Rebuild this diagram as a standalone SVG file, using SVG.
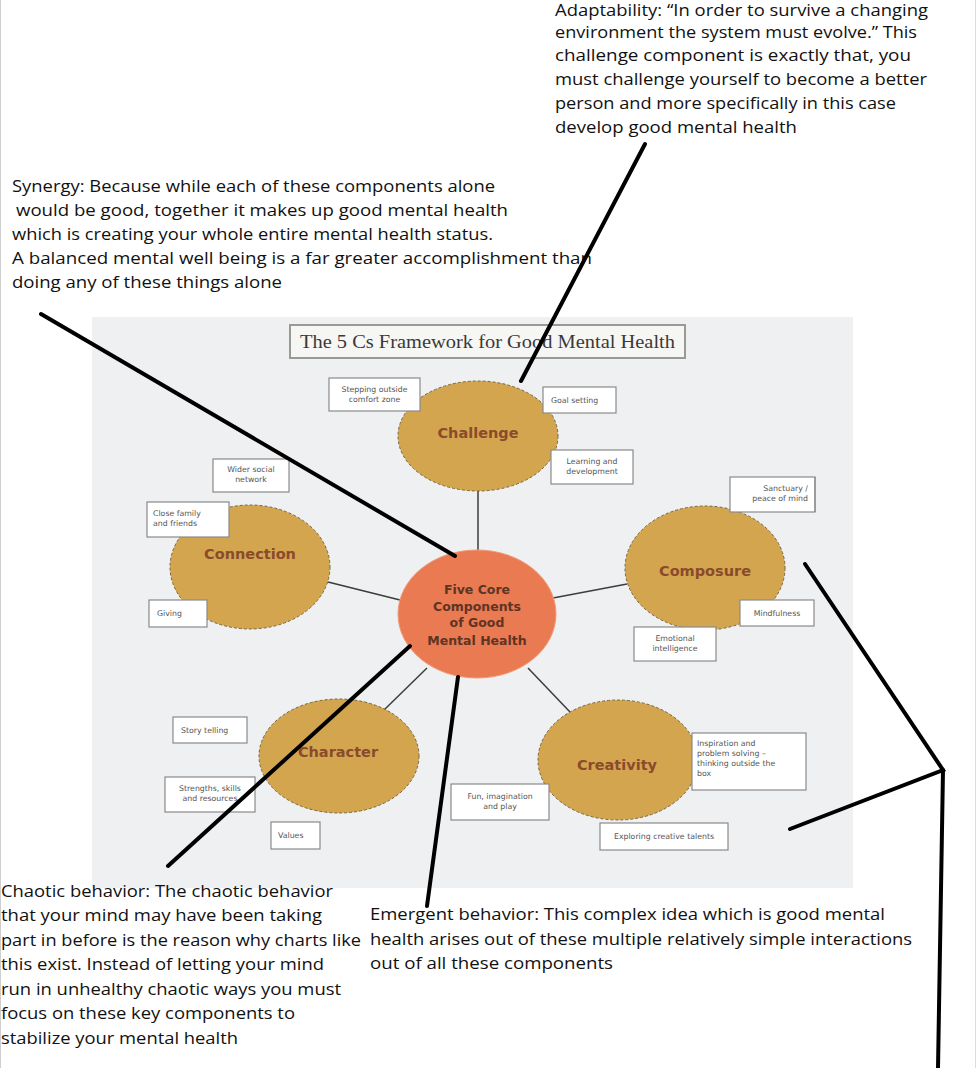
<svg xmlns="http://www.w3.org/2000/svg" width="979" height="1068" viewBox="0 0 979 1068">
<style>
.ann{font-family:"Open Sans","Lato","Liberation Sans",sans-serif;font-size:17px;fill:#111}
.lbl{font-family:"DejaVu Sans","Liberation Sans",sans-serif;font-size:7.8px;fill:#555}
.box{fill:#fff;stroke:#8a8a8a;stroke-width:1.2}
.comp{fill:#D3A54F;stroke:#7a6640;stroke-width:1;stroke-dasharray:3 2}
.cname{font-family:"DejaVu Sans","Liberation Sans",sans-serif;font-weight:bold;font-size:14.5px;fill:#8a4b2c;text-anchor:middle}
.link{stroke:#3d3d3d;stroke-width:1.5;fill:none}
.thick{stroke:#000;stroke-width:4;fill:none;stroke-linecap:round}
</style>
<rect x="0" y="0" width="979" height="1068" fill="#fff"/>
<line x1="0.5" y1="0" x2="0.5" y2="1068" stroke="#cfcfcf"/>
<line x1="975.5" y1="0" x2="975.5" y2="1068" stroke="#dcdcdc"/>
<rect x="92" y="317" width="761" height="571" fill="#eff0f2"/>

<g id="title">
<rect x="290" y="325" width="395" height="33" fill="#f6f6f4" stroke="#9a9a94" stroke-width="2"/>
<text x="300" y="348" font-family="Liberation Serif,serif" font-size="18" fill="#3a3a3a" textLength="375" lengthAdjust="spacingAndGlyphs">The 5 Cs Framework for Good Mental Health</text>
</g>

<g id="connectors">
<line class="link" x1="478" y1="491" x2="478" y2="550"/>
<line class="link" x1="328" y1="582" x2="400" y2="600"/>
<line class="link" x1="553" y1="598" x2="627" y2="584"/>
<line class="link" x1="384" y1="710" x2="427" y2="668"/>
<line class="link" x1="528" y1="668" x2="570" y2="712"/>
</g>

<g id="challenge">
<ellipse class="comp" cx="478" cy="436" rx="80" ry="55"/>
<text class="cname" x="478" y="438">Challenge</text>
<rect class="box" x="329" y="378" width="91" height="33"/>
<text class="lbl" x="374.5" y="392" text-anchor="middle">Stepping outside</text>
<text class="lbl" x="374.5" y="402" text-anchor="middle">comfort zone</text>
<rect class="box" x="543" y="387" width="73" height="26"/>
<text class="lbl" x="551" y="403">Goal setting</text>
<rect class="box" x="551" y="450" width="82" height="34"/>
<text class="lbl" x="592" y="464" text-anchor="middle">Learning and</text>
<text class="lbl" x="592" y="474" text-anchor="middle">development</text>
</g>

<g id="connection">
<ellipse class="comp" cx="250" cy="567" rx="80" ry="62"/>
<text class="cname" x="250" y="559">Connection</text>
<rect class="box" x="213" y="459" width="76" height="33"/>
<text class="lbl" x="251" y="472" text-anchor="middle">Wider social</text>
<text class="lbl" x="251" y="482" text-anchor="middle">network</text>
<rect class="box" x="147" y="502" width="82" height="35"/>
<text class="lbl" x="153" y="516">Close family</text>
<text class="lbl" x="153" y="526">and friends</text>
<rect class="box" x="149" y="600" width="58" height="27"/>
<text class="lbl" x="157" y="616">Giving</text>
</g>

<g id="composure">
<ellipse class="comp" cx="705" cy="568" rx="80" ry="62"/>
<text class="cname" x="705" y="576">Composure</text>
<rect class="box" x="730" y="477" width="85" height="35" stroke="#c8c8c8"/>
<line x1="815" y1="477" x2="815" y2="512" stroke="#8a8a8a" stroke-width="1.2"/>
<text class="lbl" x="808" y="491" text-anchor="end">Sanctuary /</text>
<text class="lbl" x="808" y="501" text-anchor="end">peace of mind</text>
<rect class="box" x="740" y="600" width="74" height="26"/>
<text class="lbl" x="777" y="616" text-anchor="middle">Mindfulness</text>
<rect class="box" x="634" y="627" width="82" height="34"/>
<text class="lbl" x="675" y="641" text-anchor="middle">Emotional</text>
<text class="lbl" x="675" y="651" text-anchor="middle">intelligence</text>
</g>

<g id="character">
<ellipse class="comp" cx="339" cy="756" rx="80" ry="57"/>
<text class="cname" x="338" y="757">Character</text>
<rect class="box" x="173" y="717" width="74" height="26"/>
<text class="lbl" x="181" y="733">Story telling</text>
<rect class="box" x="165" y="777" width="90" height="35"/>
<text class="lbl" x="210" y="791" text-anchor="middle">Strengths, skills</text>
<text class="lbl" x="210" y="801" text-anchor="middle">and resources</text>
<rect class="box" x="271" y="822" width="49" height="27"/>
<text class="lbl" x="278" y="838">Values</text>
</g>

<g id="creativity">
<ellipse class="comp" cx="618" cy="760" rx="80" ry="60"/>
<text class="cname" x="617" y="770">Creativity</text>
<rect class="box" x="692" y="733" width="114" height="57"/>
<text class="lbl" x="697" y="746">Inspiration and</text>
<text class="lbl" x="697" y="756">problem solving –</text>
<text class="lbl" x="697" y="766">thinking outside the</text>
<text class="lbl" x="697" y="776">box</text>
<rect class="box" x="451" y="784" width="98" height="36"/>
<text class="lbl" x="500" y="799" text-anchor="middle">Fun, imagination</text>
<text class="lbl" x="500" y="809" text-anchor="middle">and play</text>
<rect class="box" x="600" y="823" width="128" height="27"/>
<text class="lbl" x="664" y="839" text-anchor="middle">Exploring creative talents</text>
</g>

<g id="core">
<ellipse cx="477" cy="614" rx="79" ry="64" fill="#EA7A52" stroke="#f09a78" stroke-width="1"/>
<g font-family="DejaVu Sans,Liberation Sans,sans-serif" font-weight="bold" font-size="12.5" fill="#5e3424" text-anchor="middle">
<text x="477" y="594">Five Core</text>
<text x="477" y="611">Components</text>
<text x="477" y="627">of Good</text>
<text x="477" y="645">Mental Health</text>
</g>
</g>

<g id="annotations">
<g id="adaptability">
<text class="ann" x="555" y="16" textLength="373" lengthAdjust="spacingAndGlyphs">Adaptability: “In order to survive a changing</text>
<text class="ann" x="555" y="38" textLength="362" lengthAdjust="spacingAndGlyphs">environment the system must evolve.” This</text>
<text class="ann" x="555" y="61" textLength="356" lengthAdjust="spacingAndGlyphs">challenge component is exactly that, you</text>
<text class="ann" x="555" y="85" textLength="372" lengthAdjust="spacingAndGlyphs">must challenge yourself to become a better</text>
<text class="ann" x="555" y="109" textLength="341" lengthAdjust="spacingAndGlyphs">person and more specifically in this case</text>
<text class="ann" x="555" y="133" textLength="242" lengthAdjust="spacingAndGlyphs">develop good mental health</text>
</g>
<g id="synergy">
<text class="ann" x="12" y="192" textLength="483" lengthAdjust="spacingAndGlyphs">Synergy: Because while each of these components alone</text>
<text class="ann" x="16" y="216" textLength="492" lengthAdjust="spacingAndGlyphs">would be good, together it makes up good mental health</text>
<text class="ann" x="12" y="240" textLength="481" lengthAdjust="spacingAndGlyphs">which is creating your whole entire mental health status.</text>
<text class="ann" x="12" y="264" textLength="580" lengthAdjust="spacingAndGlyphs">A balanced mental well being is a far greater accomplishment than</text>
<text class="ann" x="12" y="288" textLength="270" lengthAdjust="spacingAndGlyphs">doing any of these things alone</text>
</g>
<g id="chaotic">
<text class="ann" x="1" y="897" textLength="332" lengthAdjust="spacingAndGlyphs">Chaotic behavior: The chaotic behavior</text>
<text class="ann" x="1" y="921" textLength="321" lengthAdjust="spacingAndGlyphs">that your mind may have been taking</text>
<text class="ann" x="1" y="946" textLength="360" lengthAdjust="spacingAndGlyphs">part in before is the reason why charts like</text>
<text class="ann" x="1" y="970" textLength="323" lengthAdjust="spacingAndGlyphs">this exist. Instead of letting your mind</text>
<text class="ann" x="1" y="995" textLength="340" lengthAdjust="spacingAndGlyphs">run in unhealthy chaotic ways you must</text>
<text class="ann" x="1" y="1019" textLength="294" lengthAdjust="spacingAndGlyphs">focus on these key components to</text>
<text class="ann" x="1" y="1044" textLength="237" lengthAdjust="spacingAndGlyphs">stabilize your mental health</text>
</g>
<g id="emergent">
<text class="ann" x="370" y="920" textLength="515" lengthAdjust="spacingAndGlyphs">Emergent behavior: This complex idea which is good mental</text>
<text class="ann" x="370" y="945" textLength="542" lengthAdjust="spacingAndGlyphs">health arises out of these multiple relatively simple interactions</text>
<text class="ann" x="370" y="969" textLength="243" lengthAdjust="spacingAndGlyphs">out of all these components</text>
</g>
</g>

<g id="pointers">
<line class="thick" x1="645" y1="144" x2="521" y2="381"/>
<line class="thick" x1="41" y1="314" x2="455" y2="556"/>
<line class="thick" x1="168" y1="866" x2="410" y2="646"/>
<line class="thick" x1="427" y1="906" x2="458" y2="677"/>
<polyline class="thick" points="805,564 943,770 790,829"/>
<line class="thick" x1="943" y1="770" x2="938" y2="1068"/>
</g>
</svg>
